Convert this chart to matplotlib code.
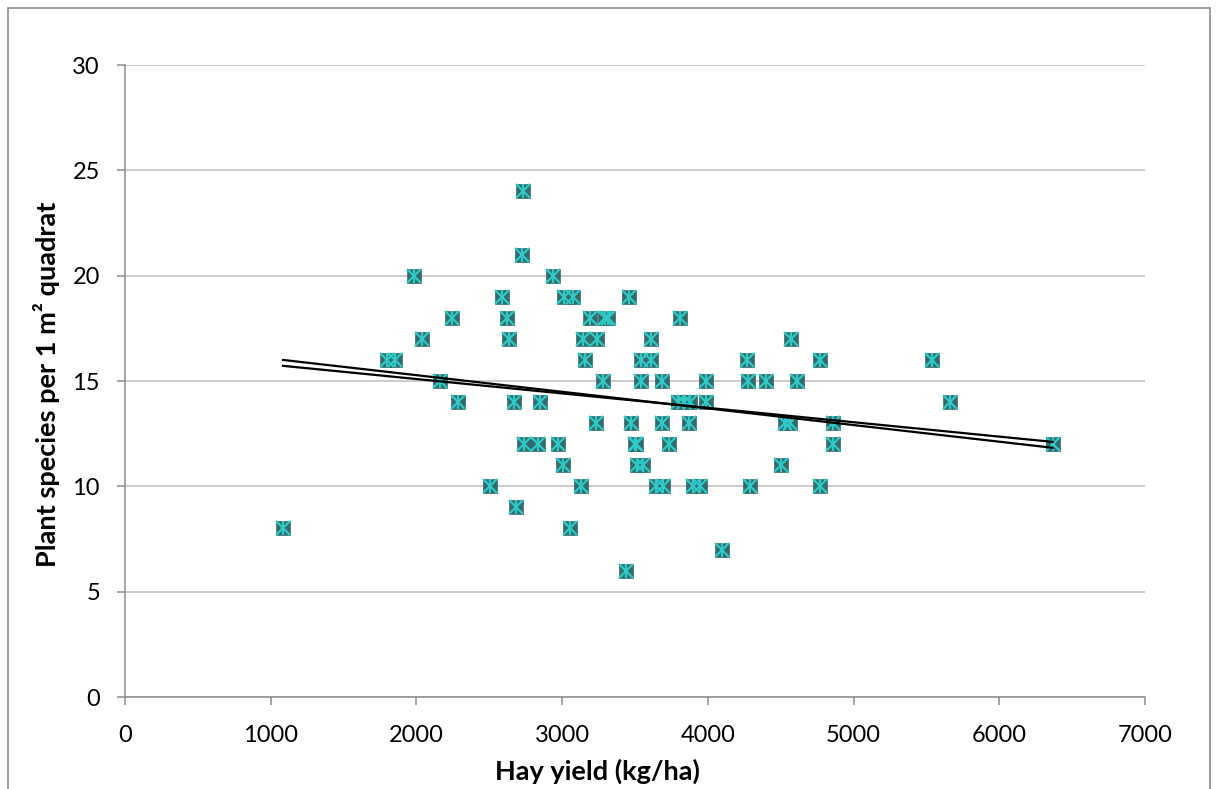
import numpy as np
import matplotlib
matplotlib.use('Agg')
import matplotlib.pyplot as plt
from matplotlib.patches import Rectangle

plt.rcParams['font.family'] = ['Lato', 'DejaVu Sans']

# Hay yield (kg/ha) and plant species count per quadrat
hay_yield = [1084, 1798, 1851, 1983, 2038, 2162, 2244, 2285, 2505, 2587,
             2622, 2633, 2668, 2682, 2725, 2729, 2740, 2834, 2848, 2935,
             2974, 3006, 3015, 3054, 3075, 3129, 3141, 3157, 3191, 3232,
             3237, 3280, 3291, 3315, 3438, 3459, 3473, 3503, 3510, 3514,
             3541, 3541, 3555, 3608, 3610, 3644, 3685, 3685, 3692, 3731,
             3795, 3809, 3836, 3871, 3877, 3898, 3946, 3987, 3987, 4097,
             4269, 4276, 4289, 4399, 4500, 4529, 4564, 4569, 4612, 4770,
             4770, 4862, 4859, 5538, 5662, 6366]
species = [8, 16, 16, 20, 17, 15, 18, 14, 10, 19,
           18, 17, 14, 9, 21, 24, 12, 12, 14, 20,
           12, 11, 19, 8, 19, 10, 17, 16, 18, 13,
           17, 15, 18, 18, 6, 19, 13, 12, 12, 11,
           16, 15, 11, 17, 16, 10, 15, 13, 10, 12,
           14, 18, 14, 13, 14, 10, 10, 15, 14, 7,
           16, 15, 10, 15, 11, 13, 13, 17, 15, 16,
           10, 13, 12, 16, 14, 12]

# two trend lines drawn over the data range (values at min / max yield)
trend_x = [min(hay_yield), max(hay_yield)]
trend_a = [16.0, 11.83]
trend_b = [15.72, 12.11]

x_ticks = [0, 1000, 2000, 3000, 4000, 5000, 6000, 7000]
y_ticks = [0, 5, 10, 15, 20, 25, 30]

W, H = 1219, 789
fig = plt.figure(figsize=(W / 100, H / 100), dpi=100)
ax = fig.add_axes([125 / W, 1 - 697 / H, 1020 / W, 632 / H])

# outer chart border
fig.patches.append(Rectangle((8 / W, -0.02), 1202 / W, 1 - 8 / H + 0.02,
                             transform=fig.transFigure, fill=False,
                             edgecolor='#8c8c8c', lw=1.2))

ax.set_xlim(0, 7000)
ax.set_ylim(0, 30)
ax.set_xticks(x_ticks)
ax.set_yticks(y_ticks)
ax.yaxis.grid(True, color='#bdbdbd', lw=1.1)
ax.set_axisbelow(True)

for s in ['top', 'right']:
    ax.spines[s].set_visible(False)
for s in ['left', 'bottom']:
    ax.spines[s].set_color('#8c8c8c')
    ax.spines[s].set_linewidth(1.1)
ax.tick_params(axis='both', direction='out', length=6, width=1.1,
               color='#8c8c8c', labelsize=17, labelcolor='black')
ax.tick_params(axis='y', pad=12)
ax.tick_params(axis='x', pad=14)

# markers: dark teal squares with a cyan star
ax.plot(hay_yield, species, ls='none', marker='s', ms=10,
        mfc='#326b6c', mec='#326b6c', mew=0.5, zorder=3)
ax.plot(hay_yield, species, ls='none', marker='x', ms=10,
        mec='#2fc9c9', mew=1.6, zorder=4)
ax.plot(hay_yield, species, ls='none', marker='|', ms=10.5,
        mec='#2fc9c9', mew=1.6, zorder=4)

ax.plot(trend_x, trend_a, color='black', lw=1.6, zorder=5)
ax.plot(trend_x, trend_b, color='black', lw=1.6, zorder=5)

ax.set_xlabel('Hay yield (kg/ha)', fontsize=19.5, fontweight='bold')
ax.xaxis.set_label_coords(0.463, -0.097)
ax.set_ylabel('Plant species per 1 m² quadrat', fontsize=19.5,
              fontweight='bold')
ax.yaxis.set_label_coords(-0.064, 0.494)

fig.savefig('out.png', dpi=100)
